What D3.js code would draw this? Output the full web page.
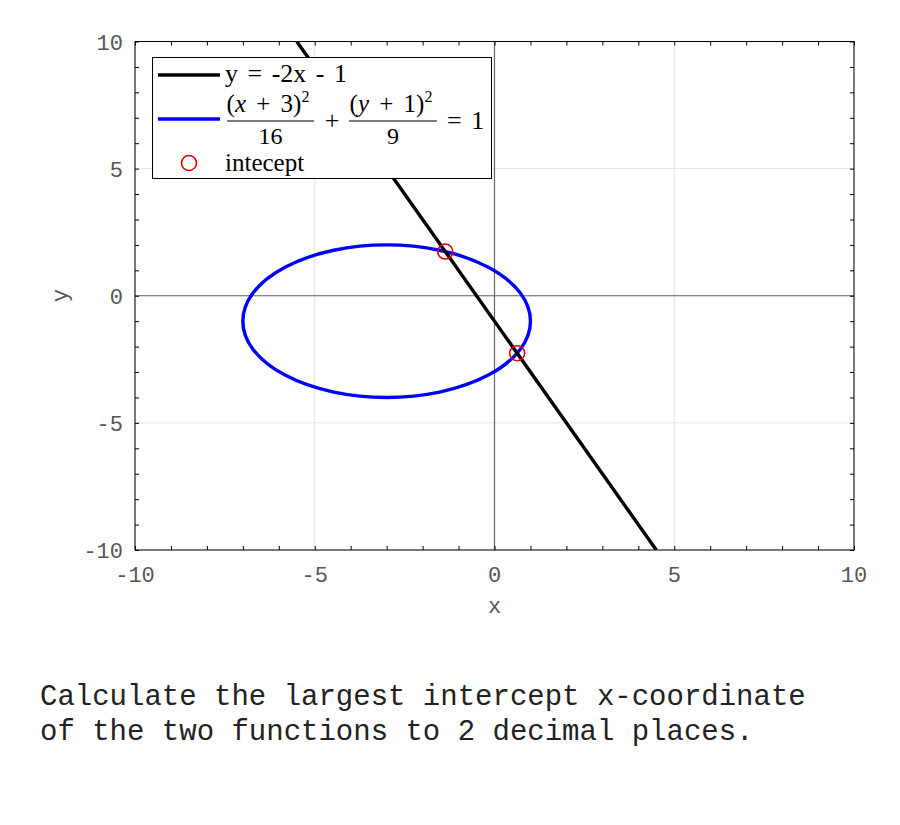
<!DOCTYPE html>
<html>
<head>
<meta charset="utf-8">
<script src="https://cdn.jsdelivr.net/npm/d3@7"></script>
<style>
  body { margin: 0; background: #fff; }
  svg { display: block; }
</style>
</head>
<body>
<div id="vis"></div>
<script>
// Data
const lineX = [-5.5, 4.5];          // y = -2x - 1 endpoints
const lineY = [10, -10];
const ellipseCenter = [-3, -1];     // (x+3)^2/16 + (y+1)^2/9 = 1
const ellipseRadii = [4, 3];
const interceptX = [-1.37, 0.63];
const interceptY = [1.74, -2.26];
const majorTicks = [-10, -5, 0, 5, 10];
const minorTicks = d3.range(-10, 11, 1);
const question = [
  "Calculate the largest intercept x-coordinate",
  "of the two functions to 2 decimal places."
];

const width = 900, height = 825;
const margin = { top: 41.5, right: 46, bottom: 275, left: 135 };

const svg = d3.select("#vis").append("svg")
  .attr("width", width)
  .attr("height", height);

const x = d3.scaleLinear().domain([-10, 10]).range([margin.left, width - margin.right]);
const y = d3.scaleLinear().domain([-10, 10]).range([height - margin.bottom, margin.top]);

svg.append("defs").append("clipPath").attr("id", "clip")
  .append("rect")
  .attr("x", x(-10)).attr("y", y(10))
  .attr("width", x(10) - x(-10)).attr("height", y(-10) - y(10));

// Grid
const grid = svg.append("g").attr("stroke", "#e3e3e3").attr("stroke-width", 1);
grid.selectAll(".gx").data(majorTicks).enter().append("line")
  .attr("x1", d => x(d)).attr("x2", d => x(d))
  .attr("y1", y(-10)).attr("y2", y(10));
grid.selectAll(".gy").data(majorTicks).enter().append("line")
  .attr("y1", d => y(d)).attr("y2", d => y(d))
  .attr("x1", x(-10)).attr("x2", x(10));

// Zero axes
svg.append("line")
  .attr("x1", x(0)).attr("x2", x(0)).attr("y1", y(-10)).attr("y2", y(10))
  .attr("stroke", "#666").attr("stroke-width", 1.2);
svg.append("line")
  .attr("x1", x(-10)).attr("x2", x(10)).attr("y1", y(0)).attr("y2", y(0))
  .attr("stroke", "#666").attr("stroke-width", 1.2);

// Ticks (inward, mirrored)
const tickFont = "'Liberation Mono', 'Courier New', monospace";
svg.append("g")
  .attr("transform", `translate(0,${y(-10)})`)
  .call(d3.axisBottom(x).tickValues(minorTicks).tickSize(-4).tickFormat(""))
  .call(g => g.select(".domain").remove());
svg.append("g")
  .attr("transform", `translate(0,${y(10)})`)
  .call(d3.axisTop(x).tickValues(minorTicks).tickSize(-4).tickFormat(""))
  .call(g => g.select(".domain").remove());
svg.append("g")
  .attr("transform", `translate(${x(-10)},0)`)
  .call(d3.axisLeft(y).tickValues(minorTicks).tickSize(-4).tickFormat(""))
  .call(g => g.select(".domain").remove());
svg.append("g")
  .attr("transform", `translate(${x(10)},0)`)
  .call(d3.axisRight(y).tickValues(minorTicks).tickSize(-4).tickFormat(""))
  .call(g => g.select(".domain").remove());

// Tick labels
svg.append("g").selectAll("text").data(majorTicks).enter().append("text")
  .attr("x", d => x(d)).attr("y", y(-10) + 32)
  .attr("text-anchor", "middle")
  .attr("font-family", tickFont).attr("font-size", "22px").attr("fill", "#555")
  .text(d => d);
svg.append("g").selectAll("text").data(majorTicks).enter().append("text")
  .attr("x", x(-10) - 12).attr("y", d => y(d) + 8)
  .attr("text-anchor", "end")
  .attr("font-family", tickFont).attr("font-size", "22px").attr("fill", "#555")
  .text(d => d);

svg.append("text")
  .attr("x", x(0)).attr("y", y(-10) + 63)
  .attr("text-anchor", "middle")
  .attr("font-family", tickFont).attr("font-size", "22px").attr("fill", "#555")
  .text("x");
svg.append("text")
  .attr("transform", `translate(${x(-10) - 68},${y(0)}) rotate(-90)`)
  .attr("text-anchor", "middle")
  .attr("font-family", tickFont).attr("font-size", "22px").attr("fill", "#555")
  .text("y");

// Curves
const plot = svg.append("g").attr("clip-path", "url(#clip)");
plot.append("ellipse")
  .attr("cx", x(ellipseCenter[0])).attr("cy", y(ellipseCenter[1]))
  .attr("rx", x(ellipseRadii[0]) - x(0)).attr("ry", y(0) - y(ellipseRadii[1]))
  .attr("fill", "none").attr("stroke", "#0000ff").attr("stroke-width", 3.4);

plot.append("path")
  .datum(lineX.map((d, i) => [d, lineY[i]]))
  .attr("d", d3.line().x(d => x(d[0])).y(d => y(d[1])))
  .attr("fill", "none").attr("stroke", "#000").attr("stroke-width", 3.4);

plot.selectAll(".pt").data(interceptX).enter().append("circle")
  .attr("cx", d => x(d)).attr("cy", (d, i) => y(interceptY[i]))
  .attr("r", 7.5)
  .attr("fill", "none").attr("stroke", "#e00000").attr("stroke-width", 1.6);

// Frame
svg.append("rect")
  .attr("x", x(-10)).attr("y", y(10))
  .attr("width", x(10) - x(-10)).attr("height", y(-10) - y(10))
  .attr("fill", "none").attr("stroke", "#000").attr("stroke-width", 1);

// Legend
const serif = "'Liberation Serif', 'DejaVu Serif', serif";
const legend = svg.append("g");
legend.append("rect")
  .attr("x", 152.5).attr("y", 57.5).attr("width", 339).attr("height", 121)
  .attr("fill", "#fff").attr("stroke", "#000").attr("stroke-width", 1);
legend.append("line")
  .attr("x1", 158).attr("x2", 220).attr("y1", 75).attr("y2", 75)
  .attr("stroke", "#000").attr("stroke-width", 3.4);
legend.append("line")
  .attr("x1", 158).attr("x2", 220).attr("y1", 119).attr("y2", 119)
  .attr("stroke", "#0000ff").attr("stroke-width", 3.4);
legend.append("circle")
  .attr("cx", 189).attr("cy", 163).attr("r", 7.5)
  .attr("fill", "none").attr("stroke", "#e00000").attr("stroke-width", 1.6);

const lt = (px, py, anchor, size) => legend.append("text")
  .attr("x", px).attr("y", py).attr("text-anchor", anchor || "start")
  .attr("font-family", serif).attr("font-size", (size || 26) + "px").attr("fill", "#000");

lt(225, 82).attr("word-spacing", "3px").text("y = -2x - 1");
// Fraction 1
const n1 = lt(268, 112, "middle", 25).attr("word-spacing", "4px");
n1.append("tspan").text("(");
n1.append("tspan").attr("font-style", "italic").text("x");
n1.append("tspan").text(" + 3)");
n1.append("tspan").attr("font-size", "16px").attr("dy", -10).text("2");
legend.append("line").attr("x1", 227).attr("x2", 314).attr("y1", 121).attr("y2", 121)
  .attr("stroke", "#000").attr("stroke-width", 1.2);
lt(270.5, 143.5, "middle", 24).text("16");
lt(332, 129, "middle", 26).text("+");
// Fraction 2
const n2 = lt(391, 112, "middle", 25).attr("word-spacing", "4px");
n2.append("tspan").text("(");
n2.append("tspan").attr("font-style", "italic").text("y");
n2.append("tspan").text(" + 1)");
n2.append("tspan").attr("font-size", "16px").attr("dy", -10).text("2");
legend.append("line").attr("x1", 349).attr("x2", 437).attr("y1", 121).attr("y2", 121)
  .attr("stroke", "#000").attr("stroke-width", 1.2);
lt(393, 143.5, "middle", 24).text("9");
lt(447, 129, "start", 26).attr("word-spacing", "3px").text("= 1");
lt(225, 170.5, "start", 25).text("intecept");

// Question text
svg.append("g").selectAll("text").data(question).enter().append("text")
  .attr("x", 40).attr("y", (d, i) => 705 + i * 35)
  .attr("font-family", tickFont).attr("font-size", "29px").attr("fill", "#222")
  .text(d => d);
</script>
</body>
</html>
